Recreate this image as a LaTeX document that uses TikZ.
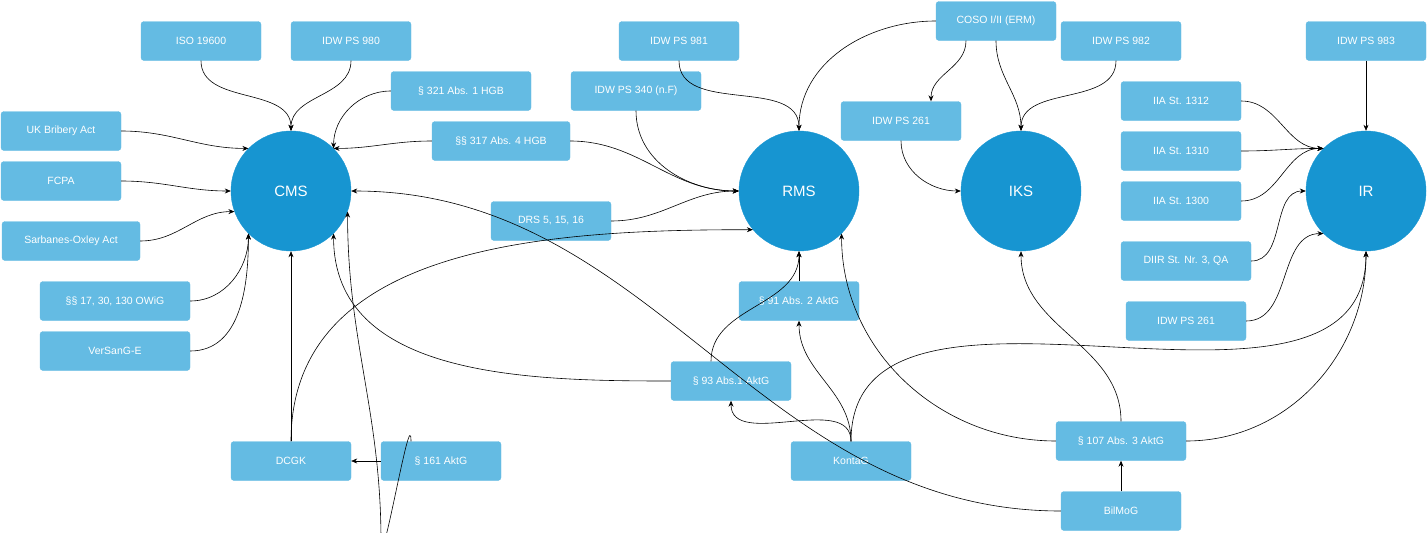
\documentclass[tikz,border=0pt]{standalone}
\usepackage{fontspec}
\setmainfont{Liberation Sans}
\usetikzlibrary{arrows.meta}
\definecolor{boxc}{HTML}{64BBE3}
\definecolor{circc}{HTML}{1795D1}
\begin{document}
\begin{tikzpicture}[x=1pt,y=1pt,
  box/.style={rectangle,rounded corners=3pt,fill=boxc,draw=boxc,text=white,minimum height=39pt,font=\fontsize{10.5}{12}\selectfont,inner sep=2pt},
  circ/.style={circle,fill=circc,draw=circc,text=white,minimum size=120pt,font=\fontsize{15}{18}\selectfont},
  e/.style={-{Stealth[length=6pt,width=5pt]},black,line width=0.6pt}]
\useasboundingbox (0,0) rectangle (1428,-533);
\node[circ] (cms) at (291,-191) {CMS};
\node[circ] (rms) at (799,-191) {RMS};
\node[circ] (iks) at (1021,-191) {IKS};
\node[circ] (ir) at (1366,-191) {IR};
\node[box,minimum width=120pt] (iso) at (201,-41) {ISO 19600};
\node[box,minimum width=120pt] (ps980) at (351,-41) {IDW PS 980};
\node[box,minimum width=140pt] (h321) at (461,-91) {§ 321 Abs. 1 HGB};
\node[box,minimum width=120pt] (uk) at (61,-131) {UK Bribery Act};
\node[box,minimum width=138pt] (h317) at (501,-141) {§§ 317 Abs. 4 HGB};
\node[box,minimum width=120pt] (fcpa) at (61,-181) {FCPA};
\node[box,minimum width=138pt] (sox) at (71,-241) {Sarbanes-Oxley Act};
\node[box,minimum width=150pt] (owig) at (115,-301) {§§ 17, 30, 130 OWiG};
\node[box,minimum width=150pt] (vers) at (115,-351) {VerSanG-E};
\node[box,minimum width=120pt] (ps981) at (679,-41) {IDW PS 981};
\node[box,minimum width=130pt] (ps340) at (636,-91) {IDW PS 340 (n.F)};
\node[box,minimum width=120pt] (drs) at (551,-221) {DRS 5, 15, 16};
\node[box,minimum width=120pt] (coso) at (996,-21) {COSO I/II (ERM)};
\node[box,minimum width=120pt] (ps982) at (1121,-41) {IDW PS 982};
\node[box,minimum width=120pt] (ps261) at (901,-121) {IDW PS 261};
\node[box,minimum width=120pt] (ps983) at (1366,-41) {IDW PS 983};
\node[box,minimum width=120pt] (i1312) at (1181,-101) {IIA St. 1312};
\node[box,minimum width=120pt] (i1310) at (1181,-151) {IIA St. 1310};
\node[box,minimum width=120pt] (i1300) at (1181,-201) {IIA St. 1300};
\node[box,minimum width=130pt] (diir) at (1186,-261) {DIIR St. Nr. 3, QA};
\node[box,minimum width=120pt] (ps261b) at (1186,-321) {IDW PS 261};
\node[box,minimum width=120pt] (a91) at (799,-301) {§ 91 Abs. 2 AktG};
\node[box,minimum width=120pt] (a93) at (731,-381) {§ 93 Abs.1 AktG};
\node[box,minimum width=120pt] (dcgk) at (291,-461) {DCGK};
\node[box,minimum width=120pt] (a161) at (441,-461) {§ 161 AktG};
\node[box,minimum width=120pt] (kontag) at (851,-461) {KontaG};
\node[box,minimum width=130pt] (a107) at (1121,-441) {§ 107 Abs. 3 AktG};
\node[box,minimum width=120pt] (bilmog) at (1121,-511) {BilMoG};

\draw[e] (iso.south) to[out=-90,in=90] (cms.north);
\draw[e] (ps980.south) to[out=-90,in=90] (cms.north);
\draw[e] (h321.west) to[out=180,in=90] (cms.45);
\draw[e] (uk.east) to[out=0,in=180] (cms.135);
\draw[e] (h317.west) to[out=180,in=0] (cms.45);
\draw[e] (fcpa.east) to[out=0,in=180] (cms.west);
\draw[e] (sox.east) to[out=0,in=180] (cms.200);
\draw[e] (owig.east) to[out=0,in=-90] (cms.225);
\draw[e] (vers.east) to[out=0,in=-90] (cms.225);
\draw[e] (ps340.south) to[out=-90,in=180] (rms.west);
\draw[e] (h317.east) to[out=0,in=180] (rms.west);
\draw[e] (drs.east) to[out=0,in=180] (rms.west);
\draw[e] (ps981.south) to[out=-90,in=90] (rms.north);
\draw[e] (coso.west) to[out=180,in=90] (rms.north);
\draw[e] ([xshift=-30pt]coso.south) to[out=-90,in=90] ([xshift=30pt]ps261.north);
\draw[e] (coso.south) to[out=-90,in=90] (iks.north);
\draw[e] ([xshift=-5pt]ps982.south) to[out=-90,in=90] (iks.north);
\draw[e] (ps261.south) to[out=-90,in=180] (iks.west);
\draw[e] (ps983.south) -- (ir.north);
\draw[e] (i1312.east) to[out=0,in=180] (ir.135);
\draw[e] (i1310.east) to[out=0,in=180] (ir.135);
\draw[e] (i1300.east) to[out=0,in=180] (ir.135);
\draw[e] (diir.east) to[out=0,in=180] (ir.west);
\draw[e] (ps261b.east) to[out=0,in=180] (ir.225);
\draw[e] (a91.north) -- (rms.south);
\draw[e] ([xshift=-20pt]a93.north) to[out=90,in=-90] (rms.south);
\draw[e] (a93.west) to[out=180,in=-90] (cms.315);
\draw[e] (dcgk.north) -- (cms.south);
\draw[e] (dcgk.north) to[out=90,in=180] (rms.220);
\draw[e] (a161.west) -- (dcgk.east);
\draw[e] ([xshift=-30pt]a161.north) to[out=90,in=-90] ++(-30,-100) to[out=90,in=-90] (cms.-20);
\draw[e] (kontag.north) to[out=90,in=-90] (a93.south);
\draw[e] (kontag.north) to[out=90,in=-90] (a91.south);
\draw[e] (kontag.north) to[out=90,in=-90] (ir.south);
\draw[e] (a107.north) to[out=90,in=-90] (iks.south);
\draw[e] (a107.west) to[out=180,in=-90] (rms.-45);
\draw[e] (a107.east) to[out=0,in=-90] (ir.south);
\draw[e] (bilmog.north) -- (a107.south);
\draw[e] (bilmog.west) to[out=180,in=0] (cms.east);
\end{tikzpicture}
\end{document}
